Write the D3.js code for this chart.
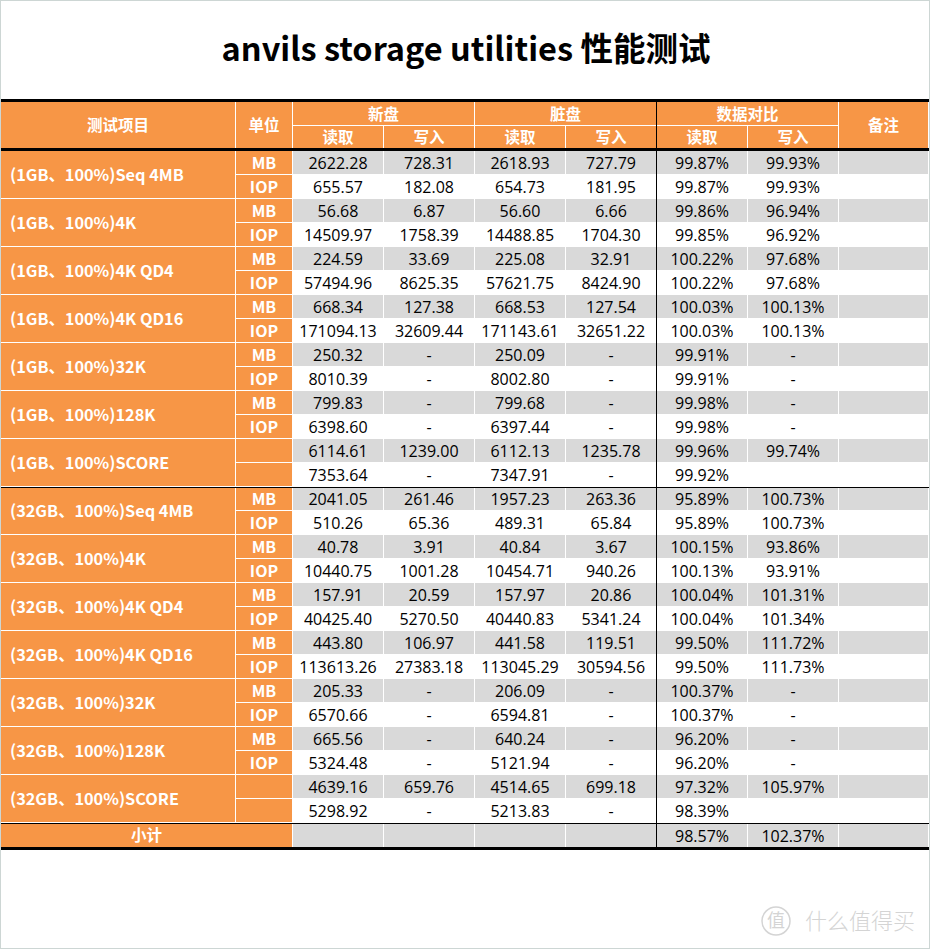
<!DOCTYPE html>
<meta charset="utf-8">
<title>anvils storage utilities 性能测试</title>
<style>
body { margin: 0; background: #fff; }
svg text { font-family: "Open Sans", "Noto Sans CJK SC", sans-serif; }
</style>
<body>
<div id="table"></div>
<script src="https://d3js.org/d3.v7.min.js"></script>
<script>

// ---- data ----
var title = "anvils storage utilities 性能测试";

var testItems = ["(1GB、100%)Seq 4MB", "(1GB、100%)4K", "(1GB、100%)4K QD4", "(1GB、100%)4K QD16",
  "(1GB、100%)32K", "(1GB、100%)128K", "(1GB、100%)SCORE",
  "(32GB、100%)Seq 4MB", "(32GB、100%)4K", "(32GB、100%)4K QD4", "(32GB、100%)4K QD16",
  "(32GB、100%)32K", "(32GB、100%)128K", "(32GB、100%)SCORE"];

var units = ["MB","IOP","MB","IOP","MB","IOP","MB","IOP","MB","IOP","MB","IOP","","",
  "MB","IOP","MB","IOP","MB","IOP","MB","IOP","MB","IOP","MB","IOP","",""];

var newRead = ["2622.28","655.57","56.68","14509.97","224.59","57494.96","668.34","171094.13","250.32","8010.39",
  "799.83","6398.60","6114.61","7353.64","2041.05","510.26","40.78","10440.75","157.91","40425.40",
  "443.80","113613.26","205.33","6570.66","665.56","5324.48","4639.16","5298.92"];
var newWrite = ["728.31","182.08","6.87","1758.39","33.69","8625.35","127.38","32609.44","-","-",
  "-","-","1239.00","-","261.46","65.36","3.91","1001.28","20.59","5270.50",
  "106.97","27383.18","-","-","-","-","659.76","-"];
var dirtyRead = ["2618.93","654.73","56.60","14488.85","225.08","57621.75","668.53","171143.61","250.09","8002.80",
  "799.68","6397.44","6112.13","7347.91","1957.23","489.31","40.84","10454.71","157.97","40440.83",
  "441.58","113045.29","206.09","6594.81","640.24","5121.94","4514.65","5213.83"];
var dirtyWrite = ["727.79","181.95","6.66","1704.30","32.91","8424.90","127.54","32651.22","-","-",
  "-","-","1235.78","-","263.36","65.84","3.67","940.26","20.86","5341.24",
  "119.51","30594.56","-","-","-","-","699.18","-"];
var ratioRead = ["99.87%","99.87%","99.86%","99.85%","100.22%","100.22%","100.03%","100.03%","99.91%","99.91%",
  "99.98%","99.98%","99.96%","99.92%","95.89%","95.89%","100.15%","100.13%","100.04%","100.04%",
  "99.50%","99.50%","100.37%","100.37%","96.20%","96.20%","97.32%","98.39%"];
var ratioWrite = ["99.93%","99.93%","96.94%","96.92%","97.68%","97.68%","100.13%","100.13%","-","-",
  "-","-","99.74%","","100.73%","100.73%","93.86%","93.91%","101.31%","101.34%",
  "111.72%","111.73%","-","-","-","-","105.97%",""];

var subtotalLabel = "小计";
var subtotal = ["98.57%", "102.37%"];

var headTop = ["测试项目", "单位", "新盘", "脏盘", "数据对比", "备注"];
var headSub = ["读取", "写入"];

// ---- layout ----
var W = 930, H = 949;
var orange = "#f79646", grey = "#d9d9d9";
var colEdges = [1, 236, 293, 384, 475, 566, 657, 748, 839, 929];
var valueCols = [newRead, newWrite, dirtyRead, dirtyWrite, ratioRead, ratioWrite];

var svg = d3.select("#table").append("svg")
  .attr("width", W).attr("height", H);

svg.append("rect").attr("x", 0.5).attr("y", 0.5)
  .attr("width", W - 1).attr("height", H - 1)
  .attr("fill", "#fff").attr("stroke", "#cdd6d4");

// column position helpers
function cx(i) { return colEdges[i]; }
function cw(i, span) { return colEdges[i + (span || 1)] - colEdges[i] - 1; }

// body rows
var y = d3.scaleBand().domain(d3.range(units.length)).range([151, 823]);
var g = d3.scaleBand().domain(d3.range(testItems.length)).range([151, 823]);

// title
svg.append("text")
  .attr("x", 466).attr("y", 50).attr("dy", "0.35em")
  .attr("text-anchor", "middle")
  .style("font-family", "'Noto Sans CJK SC', sans-serif")
  .style("font-weight", "bold").style("font-size", "32.5px")
  .text(title);

// header cells
var head = [
  {t: headTop[0], c: 0, s: 1, y: 102, h: 46},
  {t: headTop[1], c: 1, s: 1, y: 102, h: 46},
  {t: headTop[2], c: 2, s: 2, y: 102, h: 23},
  {t: headTop[3], c: 4, s: 2, y: 102, h: 23},
  {t: headTop[4], c: 6, s: 2, y: 102, h: 23},
  {t: headTop[5], c: 8, s: 1, y: 102, h: 46}
];
[2, 3, 4, 5, 6, 7].forEach(function(c, k) {
  head.push({t: headSub[k % 2], c: c, s: 1, y: 126, h: 22});
});

var hc = svg.append("g").selectAll("g").data(head).enter().append("g");
hc.append("rect")
  .attr("x", function(d) { return cx(d.c); })
  .attr("y", function(d) { return d.y; })
  .attr("width", function(d) { return cw(d.c, d.s); })
  .attr("height", function(d) { return d.h; })
  .attr("fill", orange);
hc.append("text")
  .attr("x", function(d) { return cx(d.c) + cw(d.c, d.s) / 2; })
  .attr("y", function(d) { return d.y + d.h / 2 + 1; })
  .attr("dy", "0.35em").attr("text-anchor", "middle")
  .attr("fill", "#fff")
  .style("font-family", "'Noto Sans CJK SC', sans-serif")
  .style("font-weight", "bold").style("font-size", "15.5px")
  .text(function(d) { return d.t; });

// test item column (merged over 2 rows)
var items = svg.append("g").selectAll("g").data(testItems).enter().append("g");
items.append("rect")
  .attr("x", cx(0)).attr("y", function(d, i) { return g(i); })
  .attr("width", cw(0)).attr("height", g.bandwidth() - 1)
  .attr("fill", orange);
items.append("text")
  .attr("x", cx(0) + 9).attr("y", function(d, i) { return g(i) + g.bandwidth() / 2; })
  .attr("dy", "0.35em")
  .attr("fill", "#fff")
  .style("font-family", "'Noto Sans CJK SC', sans-serif")
  .style("font-weight", "bold").style("font-size", "16.3px")
  .text(function(d) { return d; });

// unit column
var un = svg.append("g").selectAll("g").data(units).enter().append("g");
un.append("rect")
  .attr("x", cx(1)).attr("y", function(d, i) { return y(i); })
  .attr("width", cw(1)).attr("height", y.bandwidth() - 1)
  .attr("fill", orange);
un.append("text")
  .attr("x", cx(1) + cw(1) / 2).attr("y", function(d, i) { return y(i) + y.bandwidth() / 2; })
  .attr("dy", "0.35em").attr("text-anchor", "middle")
  .attr("fill", "#fff")
  .style("font-family", "'Noto Sans CJK SC', sans-serif")
  .style("font-weight", "bold").style("font-size", "16px")
  .text(function(d) { return d; });

// value columns + remark column
valueCols.concat([units.map(function() { return ""; })]).forEach(function(vals, k) {
  var c = k + 2;
  var cells = svg.append("g").selectAll("g").data(vals).enter().append("g");
  cells.append("rect")
    .attr("x", cx(c)).attr("y", function(d, i) { return y(i); })
    .attr("width", cw(c)).attr("height", y.bandwidth() - 1)
    .attr("fill", function(d, i) { return i % 2 ? "#fff" : grey; });
  cells.append("text")
    .attr("x", cx(c) + cw(c) / 2).attr("y", function(d, i) { return y(i) + y.bandwidth() / 2; })
    .attr("dy", "0.35em").attr("text-anchor", "middle")
    .attr("fill", "#000")
    .style("font-size", "16px")
    .text(function(d) { return d; });
});

// subtotal row
var sy = 824;
svg.append("rect").attr("x", cx(0)).attr("y", sy)
  .attr("width", cw(0, 2)).attr("height", 23).attr("fill", orange);
svg.append("text")
  .attr("x", cx(0) + cw(0, 2) / 2).attr("y", sy + 12).attr("dy", "0.35em")
  .attr("text-anchor", "middle").attr("fill", "#fff")
  .style("font-family", "'Noto Sans CJK SC', sans-serif")
  .style("font-weight", "bold").style("font-size", "15.5px")
  .text(subtotalLabel);
d3.range(2, 9).forEach(function(c) {
  svg.append("rect").attr("x", cx(c)).attr("y", sy)
    .attr("width", cw(c)).attr("height", 23).attr("fill", grey);
});
svg.append("g").selectAll("text").data(subtotal).enter().append("text")
  .attr("x", function(d, i) { return cx(6 + i) + cw(6 + i) / 2; })
  .attr("y", sy + 12).attr("dy", "0.35em").attr("text-anchor", "middle")
  .style("font-size", "16px")
  .text(function(d) { return d; });

// black rules
svg.append("rect").attr("x", 1).attr("y", 99).attr("width", 928).attr("height", 3).attr("fill", "#000");
svg.append("rect").attr("x", 1).attr("y", 148).attr("width", 928).attr("height", 3).attr("fill", "#000");
svg.append("rect").attr("x", 1).attr("y", y(14)).attr("width", 928).attr("height", 1).attr("fill", "#000");
svg.append("rect").attr("x", 1).attr("y", 823).attr("width", 928).attr("height", 1).attr("fill", "#000");
svg.append("rect").attr("x", 1).attr("y", 847).attr("width", 928).attr("height", 3).attr("fill", "#000");
svg.append("rect").attr("x", 656).attr("y", 102).attr("width", 1).attr("height", 745).attr("fill", "#000");

// watermark
var wm = svg.append("g").attr("fill", "#d4d4d4");
wm.append("circle").attr("cx", 776).attr("cy", 921).attr("r", 14)
  .attr("fill", "none").attr("stroke", "#d4d4d4").attr("stroke-width", 1.5);
wm.append("text").attr("x", 776).attr("y", 921).attr("dy", "0.35em")
  .attr("text-anchor", "middle")
  .style("font-family", "'Noto Sans CJK SC', sans-serif").style("font-size", "18px")
  .text("值");
wm.append("text").attr("x", 805).attr("y", 921).attr("dy", "0.35em")
  .style("font-family", "'Noto Sans CJK SC', sans-serif").style("font-size", "22px")
  .style("font-weight", 300)
  .text("什么值得买");

</script>
</body>
